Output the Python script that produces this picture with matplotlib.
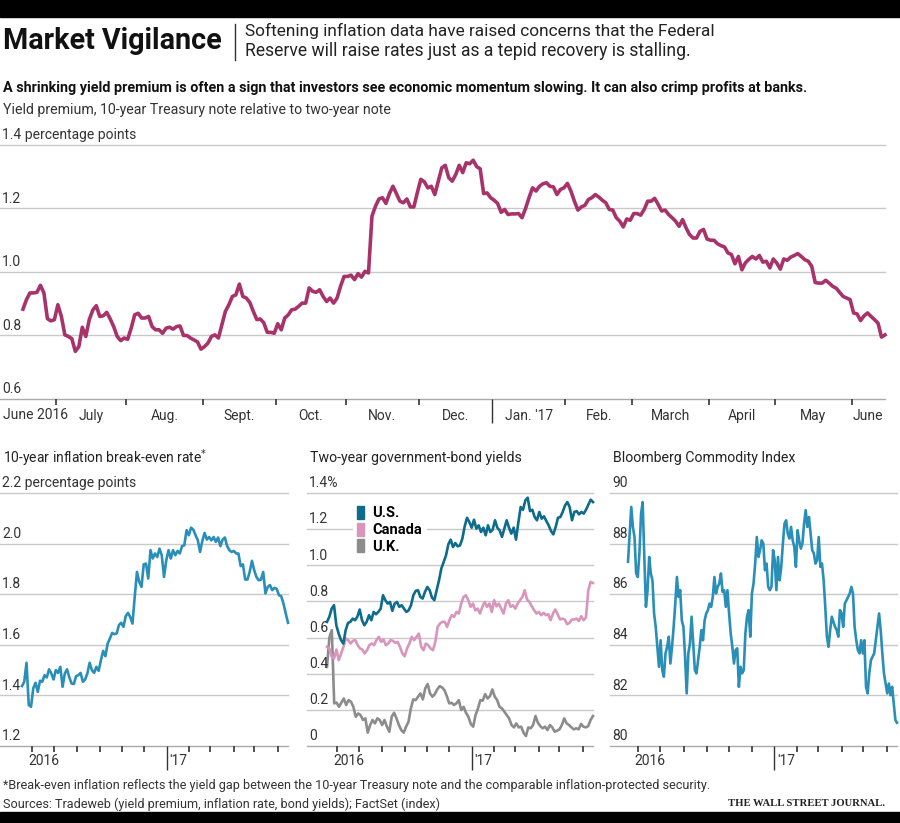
import matplotlib
matplotlib.use('Agg')
import matplotlib.pyplot as plt
from matplotlib.patches import Rectangle, Patch
import numpy as np
import pandas as pd

plt.rcParams['font.family'] = ['Roboto', 'DejaVu Sans']

# trading days covered by every panel
start_date, end_date = '2016-06-17', '2017-06-15'

# yield premium, 10-year minus 2-year (percentage points)
yield_premium = [
    0.883, 0.913, 0.934, 0.934, 0.936, 0.958, 0.934, 0.853, 0.846, 0.85, 0.897, 0.86, 0.802, 0.797, 0.79,
    0.75, 0.765, 0.826, 0.797, 0.85, 0.88, 0.894, 0.86, 0.862, 0.873, 0.852, 0.828, 0.797, 0.784, 0.792,
    0.788, 0.823, 0.865, 0.87, 0.855, 0.855, 0.86, 0.828, 0.818, 0.818, 0.807, 0.823, 0.826, 0.82, 0.828,
    0.83, 0.8, 0.8, 0.792, 0.786, 0.78, 0.757, 0.765, 0.776, 0.797, 0.802, 0.792, 0.834, 0.876, 0.897,
    0.923, 0.928, 0.962, 0.923, 0.918, 0.904, 0.876, 0.85, 0.852, 0.84, 0.81, 0.81, 0.807, 0.837, 0.818,
    0.855, 0.865, 0.881, 0.883, 0.892, 0.902, 0.902, 0.95, 0.939, 0.936, 0.944, 0.923, 0.907, 0.918, 0.902,
    0.918, 0.955, 0.986, 0.986, 0.99, 0.976, 0.995, 0.984, 1.002, 0.997, 1.176, 1.207, 1.23, 1.234, 1.216,
    1.247, 1.27, 1.247, 1.223, 1.218, 1.23, 1.205, 1.205, 1.25, 1.292, 1.284, 1.265, 1.27, 1.244, 1.286,
    1.328, 1.336, 1.297, 1.286, 1.307, 1.336, 1.313, 1.344, 1.341, 1.352, 1.332, 1.325, 1.247, 1.249, 1.234,
    1.226, 1.216, 1.188, 1.197, 1.181, 1.183, 1.183, 1.184, 1.171, 1.2, 1.234, 1.265, 1.255, 1.27, 1.278,
    1.281, 1.27, 1.268, 1.244, 1.26, 1.265, 1.279, 1.255, 1.223, 1.195, 1.205, 1.21, 1.228, 1.234, 1.244,
    1.236, 1.226, 1.218, 1.197, 1.195, 1.171, 1.16, 1.142, 1.167, 1.163, 1.184, 1.184, 1.179, 1.197, 1.223,
    1.223, 1.232, 1.213, 1.192, 1.195, 1.181, 1.171, 1.16, 1.144, 1.165, 1.139, 1.118, 1.107, 1.107, 1.128,
    1.134, 1.104, 1.1, 1.1, 1.089, 1.083, 1.079, 1.06, 1.055, 1.026, 1.049, 1.007, 1.029, 1.04, 1.049,
    1.041, 1.052, 1.031, 1.034, 1.013, 1.041, 1.028, 1.009, 1.041, 1.037, 1.047, 1.052, 1.058, 1.049, 1.039,
    1.034, 1.018, 0.967, 0.965, 0.965, 0.974, 0.965, 0.955, 0.949, 0.936, 0.923, 0.918, 0.913, 0.871, 0.868,
    0.847, 0.862, 0.871, 0.86, 0.85, 0.839, 0.795, 0.802,
]

# 10-year inflation break-even rate
breakeven = [
    1.437, 1.454, 1.529, 1.362, 1.355, 1.428, 1.45, 1.414, 1.458, 1.454, 1.48, 1.471, 1.503, 1.487, 1.463,
    1.5, 1.489, 1.513, 1.434, 1.487, 1.503, 1.471, 1.447, 1.445, 1.476, 1.48, 1.489, 1.454, 1.463, 1.487,
    1.529, 1.5, 1.489, 1.513, 1.497, 1.539, 1.576, 1.555, 1.605, 1.625, 1.647, 1.642, 1.645, 1.678, 1.687,
    1.671, 1.713, 1.726, 1.71, 1.684, 1.789, 1.888, 1.849, 1.829, 1.918, 1.921, 1.862, 1.974, 1.941, 1.961,
    1.947, 1.98, 1.954, 1.868, 1.934, 1.974, 1.941, 1.974, 1.954, 1.971, 1.961, 1.99, 1.993, 2.053, 2.033,
    2.063, 2.055, 2.033, 2.013, 1.967, 2.011, 2.042, 2.016, 2.026, 2.013, 2.026, 2.007, 2.024, 1.99, 2.016,
    2.024, 1.99, 1.974, 1.967, 1.971, 1.961, 1.961, 1.911, 1.918, 1.858, 1.858, 1.888, 1.932, 1.895, 1.868,
    1.855, 1.858, 1.888, 1.803, 1.829, 1.836, 1.816, 1.825, 1.821, 1.796, 1.792, 1.763, 1.724, 1.687,
]

# two-year government-bond yields (%)
us_2y = [
    0.687, 0.715, 0.76, 0.779, 0.668, 0.622, 0.586, 0.567, 0.641, 0.681, 0.687, 0.705, 0.696, 0.715, 0.755,
    0.696, 0.668, 0.687, 0.724, 0.696, 0.742, 0.729, 0.742, 0.76, 0.834, 0.807, 0.788, 0.797, 0.748, 0.788,
    0.797, 0.77, 0.779, 0.76, 0.742, 0.751, 0.779, 0.834, 0.858, 0.862, 0.825, 0.816, 0.853, 0.88, 0.862,
    0.821, 0.807, 0.862, 0.917, 0.982, 1.018, 1.055, 1.116, 1.142, 1.101, 1.123, 1.105, 1.11, 1.147, 1.215,
    1.263, 1.239, 1.208, 1.252, 1.203, 1.221, 1.184, 1.208, 1.166, 1.221, 1.184, 1.197, 1.249, 1.208, 1.193,
    1.157, 1.203, 1.249, 1.208, 1.175, 1.208, 1.142, 1.236, 1.322, 1.307, 1.359, 1.374, 1.3, 1.307, 1.267,
    1.249, 1.295, 1.258, 1.271, 1.245, 1.221, 1.19, 1.171, 1.212, 1.263, 1.267, 1.295, 1.331, 1.35, 1.322,
    1.249, 1.295, 1.3, 1.282, 1.295, 1.286, 1.307, 1.335, 1.363, 1.35,
]
canada_2y = [
    0.549, 0.54, 0.494, 0.484, 0.534, 0.475, 0.512, 0.549, 0.595, 0.586, 0.567, 0.582, 0.586, 0.558, 0.54,
    0.534, 0.512, 0.53, 0.558, 0.567, 0.558, 0.586, 0.604, 0.576, 0.589, 0.558, 0.567, 0.586, 0.582, 0.571,
    0.576, 0.549, 0.512, 0.497, 0.54, 0.567, 0.604, 0.586, 0.604, 0.622, 0.549, 0.53, 0.567, 0.558, 0.54,
    0.53, 0.576, 0.659, 0.678, 0.687, 0.687, 0.659, 0.696, 0.724, 0.715, 0.742, 0.733, 0.788, 0.825, 0.834,
    0.807, 0.77, 0.788, 0.751, 0.76, 0.733, 0.77, 0.797, 0.77, 0.788, 0.742, 0.807, 0.773, 0.788, 0.76,
    0.733, 0.788, 0.807, 0.77, 0.779, 0.76, 0.788, 0.807, 0.825, 0.862, 0.81, 0.797, 0.773, 0.751, 0.733,
    0.742, 0.724, 0.737, 0.724, 0.729, 0.696, 0.733, 0.755, 0.729, 0.7, 0.705, 0.7, 0.674, 0.681, 0.7,
    0.7, 0.705, 0.692, 0.718, 0.696, 0.711, 0.862, 0.908, 0.902,
]
uk_2y = [
    0.438, 0.6, 0.641, 0.236, 0.24, 0.217, 0.24, 0.263, 0.227, 0.254, 0.245, 0.217, 0.162, 0.18, 0.171,
    0.144, 0.153, 0.074, 0.116, 0.144, 0.125, 0.153, 0.144, 0.116, 0.144, 0.107, 0.079, 0.162, 0.184, 0.153,
    0.116, 0.088, 0.074, 0.107, 0.134, 0.208, 0.258, 0.254, 0.273, 0.291, 0.258, 0.319, 0.343, 0.291, 0.273,
    0.287, 0.313, 0.331, 0.324, 0.309, 0.276, 0.236, 0.239, 0.227, 0.236, 0.254, 0.199, 0.217, 0.184, 0.162,
    0.122, 0.107, 0.171, 0.208, 0.254, 0.251, 0.287, 0.263, 0.276, 0.313, 0.273, 0.254, 0.217, 0.208, 0.19,
    0.171, 0.153, 0.116, 0.103, 0.125, 0.103, 0.107, 0.074, 0.055, 0.103, 0.098, 0.116, 0.166, 0.129, 0.11,
    0.098, 0.107, 0.088, 0.116, 0.103, 0.079, 0.085, 0.092, 0.116, 0.153, 0.125, 0.116, 0.103, 0.092, 0.098,
    0.092, 0.122, 0.107, 0.103, 0.11, 0.144, 0.166,
]

# Bloomberg Commodity Index
commodity = [
    87.28, 88.39, 89.45, 88.66, 88.26, 86.82, 86.68, 87.61, 89.18, 89.64, 87.47, 85.5, 86.16, 87.47, 86.82,
    86.55, 85.24, 84.71, 83.92, 83.13, 84.18, 83.0, 82.74, 83.66, 83.92, 84.32, 83.26, 83.92, 84.71, 85.63,
    86.68, 85.89, 86.16, 84.97, 84.71, 83.53, 82.08, 83.66, 84.05, 85.11, 84.05, 83.0, 82.87, 83.39, 83.92,
    84.58, 84.18, 84.97, 85.24, 85.37, 85.63, 85.5, 85.89, 86.68, 86.03, 86.29, 86.42, 86.82, 86.09, 86.16,
    85.5, 86.16, 85.24, 84.45, 83.92, 83.26, 83.79, 83.86, 82.34, 83.13, 82.87, 83.0, 84.45, 85.11, 85.37,
    84.32, 86.03, 86.42, 87.21, 88.26, 87.47, 87.74, 88.13, 88.0, 86.95, 87.21, 86.29, 86.16, 86.29, 87.74,
    87.34, 86.16, 87.47, 86.55, 87.08, 88.0, 88.79, 88.92, 88.39, 88.2, 88.66, 88.13, 87.87, 87.08, 88.53,
    88.13, 87.8, 88.0, 88.79, 89.32, 88.66, 89.05, 88.39, 87.74, 87.61, 87.21, 87.34, 88.26, 87.08, 87.21,
    86.55, 85.5, 84.32, 83.92, 84.58, 85.11, 84.91, 84.71, 84.58, 84.32, 85.37, 85.24, 84.71, 85.63, 85.76,
    85.89, 86.03, 86.29, 86.03, 84.71, 84.18, 83.79, 83.66, 84.18, 83.66, 84.18, 82.34, 82.08, 82.87, 83.39,
    83.53, 83.66, 84.18, 84.71, 85.24, 84.58, 83.66, 82.87, 82.47, 82.08, 82.47, 82.01, 82.34, 81.68, 81.03,
    80.92,
]

top_months = ['June 2016', 'July', 'Aug.', 'Sept.', 'Oct.', 'Nov.', 'Dec.', "Jan. '17",
              'Feb.', 'March', 'April', 'May', 'June']

W, H = 900, 823
days = pd.bdate_range(start_date, end_date)
n = len(days)
month_starts = [i for i in range(1, n) if days[i].month != days[i - 1].month]
TXT = '#333333'
GRID = '#c9c9c9'


def px_axes(x0, x1, y0, y1):
    # axes placed by pixel box (top-left origin)
    return fig.add_axes([x0 / W, 1 - y1 / H, (x1 - x0) / W, (y1 - y0) / H])


def fit(t, width_px):
    # narrow WSJ face is not available, so scale each text to the reference width
    r = fig.canvas.get_renderer()
    w = t.get_window_extent(r).width
    t.set_fontsize(t.get_fontsize() * width_px / w)
    return t


def setup(ax, levels, labels, lead_px, width_px, fs=9.5):
    ax.set_ylim(levels[0], levels[-1])
    span = (n - 1) / (width_px - lead_px)
    ax.set_xlim(-lead_px * span, n - 1)
    for s in ax.spines.values():
        s.set_visible(False)
    for i, v in enumerate(levels):
        ax.axhline(v, color='#aaaaaa' if i == 0 else GRID, lw=1.0, zorder=0, clip_on=False)
    for v, lab in zip(levels, labels):
        ax.annotate(lab, xy=(0, v), xycoords=('axes fraction', 'data'), xytext=(1.5, 2),
                    textcoords='offset points', ha='left', va='bottom', fontsize=fs, color=TXT)
    jan = [i for i in month_starts if days[i].month == 1]
    other = [i for i in month_starts if days[i].month != 1]
    ax.set_xticks(jan)
    ax.set_xticks(other, minor=True)
    ax.tick_params(axis='x', which='major', length=17, width=1.0, color='#333333', labelbottom=False)
    ax.tick_params(axis='x', which='minor', length=4, width=1.3, color='#444444', labelbottom=False)
    ax.tick_params(axis='y', left=False, labelleft=False)
    ax.patch.set_alpha(0)


fig = plt.figure(figsize=(W / 100, H / 100), dpi=100)

# black bands and header
fig.add_artist(Rectangle((0, 1 - 17 / H), 1, 17 / H, transform=fig.transFigure, color='black'))
fig.add_artist(Rectangle((0, 0), 1, 11 / H, transform=fig.transFigure, color='black'))
fit(fig.text(3 / W, 1 - 41 / H, 'Market Vigilance', fontsize=19, fontweight='bold', va='center',
             color='#111111'), 219)
fig.add_artist(plt.Line2D([235 / W, 235 / W], [1 - 24 / H, 1 - 60 / H], transform=fig.transFigure,
                          color='#333333', lw=1))
fit(fig.text(245 / W, 1 - 31 / H, 'Softening inflation data have raised concerns that the Federal',
             fontsize=12.5, va='center', color='#222222'), 470)
fit(fig.text(245 / W, 1 - 51 / H, 'Reserve will raise rates just as a tepid recovery is stalling.',
             fontsize=12.5, va='center', color='#222222'), 445)
fit(fig.text(3 / W, 1 - 88 / H, 'A shrinking yield premium is often a sign that investors see economic '
             'momentum slowing. It can also crimp profits at banks.', fontsize=10.5, fontweight='bold',
             va='center', color='#111111'), 809)
fit(fig.text(3 / W, 1 - 110 / H, 'Yield premium, 10-year Treasury note relative to two-year note',
             fontsize=10.5, va='center', color=TXT), 390)

# top panel
ax = px_axes(0, 885, 145, 399)
setup(ax, [0.6, 0.8, 1.0, 1.2, 1.4], ['0.6', '0.8', '1.0', '1.2', '1.4 percentage points'], 23, 886,
      fs=10)
ax.plot(np.linspace(0, n - 1, len(yield_premium)), yield_premium, color='#a8336b', lw=2.6,
        solid_joinstyle='round', clip_on=False)
bounds = [0] + month_starts + [n - 1]
for k, lab in enumerate(top_months):
    if k == 0:
        ax.text(0.003, -0.064, lab, transform=ax.transAxes, ha='left', va='center', fontsize=10, color=TXT)
    else:
        mid = (bounds[k] + bounds[k + 1]) / 2
        ax.annotate(lab, xy=(mid, 0), xycoords=('data', 'axes fraction'), xytext=(0, -12),
                    textcoords='offset points', ha='center', va='center', fontsize=10, color=TXT)

# bottom panels
panels = [
    (0, 288, 22, '10-year inflation break-even rate$^{*}$', 205, [1.2, 1.4, 1.6, 1.8, 2.0, 2.2],
     ['1.2', '1.4', '1.6', '1.8', '2.0', '2.2 percentage points']),
    (307, 593, 20, 'Two-year government-bond yields', 213, [0, 0.2, 0.4, 0.6, 0.8, 1.0, 1.2, 1.4],
     ['0', '0.2', '0.4', '0.6', '0.8', '1.0', '1.2', '1.4%']),
    (610, 897, 18, 'Bloomberg Commodity Index', 183, [80, 82, 84, 86, 88, 90],
     ['80', '82', '84', '86', '88', '90']),
]
axes = []
for x0, x1, lead, title, tw, levels, labels in panels:
    a = px_axes(x0, x1, 493, 746)
    setup(a, levels, labels, lead, x1 - x0, fs=10)
    fit(a.text(0.01, 1 + 35 / 253, title, transform=a.transAxes, ha='left', va='center', fontsize=11.5,
               color='#222222'), tw)
    july = month_starts[0]
    jan = [i for i in month_starts if days[i].month == 1][0]
    a.annotate('2016', xy=(july, 0), xycoords=('data', 'axes fraction'), xytext=(-3, -11),
               textcoords='offset points', ha='left', va='center', fontsize=10, color=TXT)
    a.annotate("'17", xy=(jan, 0), xycoords=('data', 'axes fraction'), xytext=(2, -11),
               textcoords='offset points', ha='left', va='center', fontsize=10, color=TXT)
    axes.append(a)

axes[0].plot(np.linspace(0, n - 1, len(breakeven)), breakeven, color='#2a8fb8', lw=1.9, clip_on=False)
axes[1].plot(np.linspace(0, n - 1, len(uk_2y)), uk_2y, color='#8c8c8c', lw=1.9, clip_on=False)
axes[1].plot(np.linspace(0, n - 1, len(canada_2y)), canada_2y, color='#d995bb', lw=1.9, clip_on=False)
axes[1].plot(np.linspace(0, n - 1, len(us_2y)), us_2y, color='#0d6b8c', lw=1.9, clip_on=False)
axes[2].plot(np.linspace(0, n - 1, len(commodity)), commodity, color='#2a8fb8', lw=1.9, clip_on=False)

handles = [Patch(color='#0d6b8c', label='U.S.'), Patch(color='#d995bb', label='Canada'),
           Patch(color='#8c8c8c', label='U.K.')]
leg = axes[1].legend(handles=handles, loc='upper left', bbox_to_anchor=(0.135, 0.995), frameon=True,
                     facecolor='white', edgecolor='none', framealpha=1, fancybox=False, borderpad=0.3,
                     handlelength=0.45, handleheight=1.0, handletextpad=0.6, labelspacing=0.15,
                     prop={'weight': 'bold', 'size': 10.5})
leg.set_zorder(1)

# footer
note = fit(fig.text(3 / W, 1 - 785 / H, '*Break-even inflation reflects the yield gap between the '
                    '10-year Treasury note and the comparable inflation-protected security.',
                    fontsize=8.5, va='center', color=TXT), 695)
fig.text(3 / W, 1 - 804 / H, 'Sources: Tradeweb (yield premium, inflation rate, bond yields); '
         'FactSet (index)', fontsize=note.get_fontsize(), va='center', color=TXT)
fit(fig.text(885 / W, 1 - 804 / H, 'THE WALL STREET JOURNAL.', fontsize=8.5, va='center', ha='right',
             family='Liberation Serif', fontweight='bold', color='#222222'), 155)

fig.savefig('out.png', dpi=100)
